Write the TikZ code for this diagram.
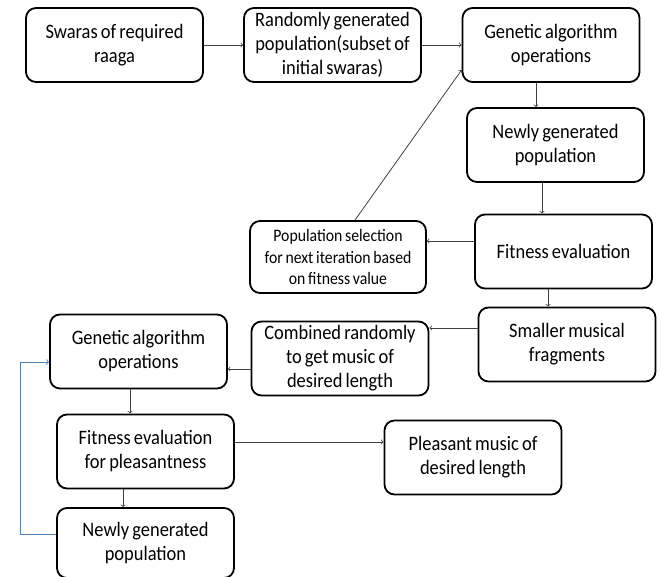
\documentclass[tikz,border=0pt]{standalone}
\usepackage{fontspec}
\setmainfont{Carlito}[FakeStretch=0.9, WordSpace=0.75]
\tikzset{
  box/.style={draw=black, line width=1.8pt, rounded corners=10pt, align=center,
    inner sep=2pt, minimum width=177pt, minimum height=74pt,
    font=\fontsize{20.5}{24}\selectfont},
  smallbox/.style={box, font=\fontsize{17.5}{21.7}\selectfont},
  arr/.style={->, draw={rgb,255:red,64;green,64;blue,64}, line width=0.8pt},
  bluearr/.style={->, draw={rgb,255:red,79;green,129;blue,189}, line width=1pt}
}
\begin{document}
\begin{tikzpicture}[x=1pt,y=1pt,yscale=-1,xscale=1]
\useasboundingbox (0,0) rectangle (661,577);
\node[box] (swaras) at (114.5,45) {Swaras of required\\raaga};
\node[box] (randpop) at (332.5,45) {Randomly generated\\population(subset of\\initial swaras)};
\node[box] (gaops) at (551,45) {Genetic algorithm\\operations};
\node[box] (newpop) at (555.5,145) {Newly generated\\population};
\node[box] (fiteval) at (563.5,251.5) {Fitness evaluation};
\node[smallbox, minimum width=176pt, minimum height=72pt] (popsel) at (338,257) {Population selection\\for next iteration  based\\on fitness  value};
\node[box] (smaller) at (567,344.5) {Smaller musical\\fragments};
\node[box] (combined) at (340,358.5) {Combined randomly\\to get music of\\desired length};
\node[box] (gaops2) at (138.5,351.5) {Genetic algorithm\\operations};
\node[box] (fitpleas) at (145.5,451.5) {Fitness evaluation\\for pleasantness};
\node[box] (pleasant) at (473,457.5) {Pleasant music of\\desired length};
\node[box, minimum height=70pt] (newpop2) at (145.5,543) {Newly generated\\population};
% top row
\draw[arr] (swaras) -- (randpop);
\draw[arr] (randpop) -- (gaops);
\draw[arr] ([xshift=-15pt]gaops.south) -- ([xshift=-15pt]gaops.south |- newpop.north);
\draw[arr] ([xshift=-13.5pt]newpop.south) -- ([xshift=-13.5pt]newpop.south |- fiteval.north);
\draw[arr] ([yshift=-10.5pt]fiteval.west) -- ([yshift=-10.5pt]fiteval.west -| popsel.east);
\draw[arr] ([xshift=17pt]popsel.north) -- ([yshift=25pt]gaops.west);
\draw[arr] ([xshift=-15.5pt]fiteval.south) -- ([xshift=-15.5pt]fiteval.south |- smaller.north);
% bottom part
\draw[arr] ([yshift=-16.5pt]smaller.west) -- ([yshift=-16.5pt]smaller.west -| combined.east);
\draw[arr] ([yshift=10.5pt]combined.west) -- ([yshift=10.5pt]combined.west -| gaops2.east);
\draw[arr] ([xshift=-8.5pt]gaops2.south) -- ([xshift=-8.5pt]gaops2.south |- fitpleas.north);
\draw[arr] ([yshift=-9.5pt]fitpleas.east) -- ([yshift=-9.5pt]fitpleas.east -| pleasant.west);
\draw[arr] ([xshift=-22.5pt]fitpleas.south) -- ([xshift=-22.5pt]fitpleas.south |- newpop2.north);
\draw[bluearr] ([yshift=-9pt]newpop2.west) -| (20,362) -- ([yshift=10.5pt]gaops2.west);
\end{tikzpicture}
\end{document}
